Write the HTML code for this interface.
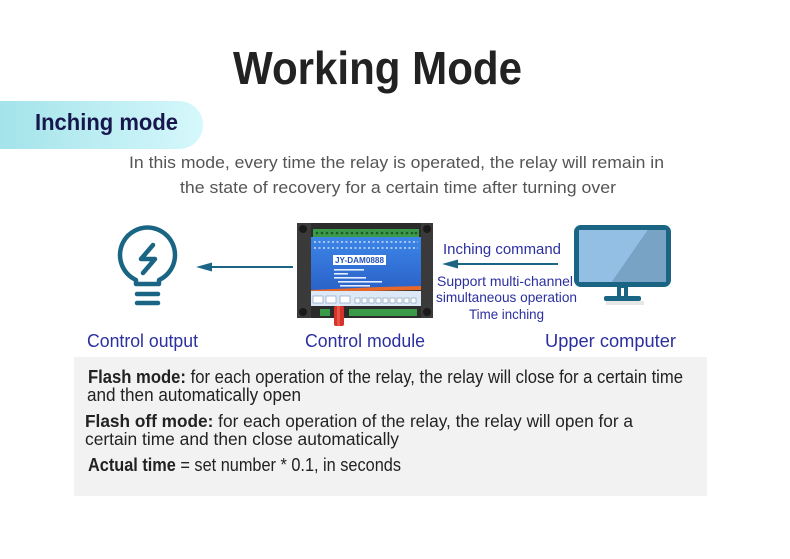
<!DOCTYPE html>
<html><head><meta charset="utf-8"><style>
html,body{margin:0;padding:0;background:#fff;}
svg{display:block;}
text{font-family:"Liberation Sans",sans-serif;}
</style></head><body>
<svg width="790" height="559" viewBox="0 0 790 559" xmlns="http://www.w3.org/2000/svg">
<defs>
<linearGradient id="pill" x1="0" x2="1" y1="0" y2="0">
<stop offset="0" stop-color="#a3e3ea"/><stop offset="1" stop-color="#d6f8fc"/>
</linearGradient>
<linearGradient id="blue" x1="0" x2="0" y1="0" y2="1">
<stop offset="0" stop-color="#3d86e8"/><stop offset="1" stop-color="#2a62c8"/>
</linearGradient>
</defs>
<rect width="790" height="559" fill="#fff"/>

<!-- Title -->
<text x="233" y="84" font-size="46" font-weight="bold" fill="#222" textLength="289" lengthAdjust="spacingAndGlyphs">Working Mode</text>

<!-- Pill -->
<path d="M0,101 H179 A24,24 0 0 1 179,149 H0 Z" fill="url(#pill)"/>
<text x="35" y="130" font-size="23" font-weight="bold" fill="#17164d" textLength="143" lengthAdjust="spacingAndGlyphs">Inching mode</text>

<!-- Description -->
<text x="129" y="168" font-size="17" fill="#555" textLength="535" lengthAdjust="spacingAndGlyphs">In this mode, every time the relay is operated, the relay will remain in</text>
<text x="180" y="193" font-size="17" fill="#555" textLength="436" lengthAdjust="spacingAndGlyphs">the state of recovery for a certain time after turning over</text>

<!-- Bulb -->
<g fill="none" stroke="#1b6584" stroke-width="4.5" stroke-linecap="round" stroke-linejoin="round">
<path d="M136,284 L136,280 A27.5,27.5 0 1 1 159,280 L159,284 Z"/>
<path d="M153,245 L141,259 L155,259 L143,273"/>
<line x1="137" y1="294" x2="158" y2="294"/>
<line x1="137" y1="303" x2="158" y2="303"/>
</g>

<!-- Arrow 1 -->
<line x1="210" y1="267" x2="293" y2="267" stroke="#1b6584" stroke-width="2"/>
<polygon points="196,267 212,262.5 212,271.5" fill="#1b6584"/>

<!-- Arrow 2 -->
<line x1="455" y1="264" x2="558" y2="264" stroke="#1b6584" stroke-width="2"/>
<polygon points="442,264 458,259.5 458,268.5" fill="#1b6584"/>

<!-- Module -->
<g>
<rect x="297" y="223" width="136" height="95" rx="3" fill="#2b2b2b"/>
<rect x="297" y="223" width="14" height="95" fill="#3a3a3a"/>
<rect x="421" y="223" width="12" height="95" fill="#3a3a3a"/>
<circle cx="303" cy="229" r="4" fill="#1a1a1a"/>
<circle cx="427" cy="229" r="4" fill="#1a1a1a"/>
<circle cx="303" cy="312" r="4" fill="#1a1a1a"/>
<circle cx="427" cy="312" r="4" fill="#1a1a1a"/>
<rect x="313" y="229" width="106" height="8" fill="#3a9a48"/>
<g fill="#1d5a28">
<circle cx="317" cy="233" r="1.3"/><circle cx="322" cy="233" r="1.3"/><circle cx="327" cy="233" r="1.3"/><circle cx="332" cy="233" r="1.3"/><circle cx="337" cy="233" r="1.3"/><circle cx="342" cy="233" r="1.3"/><circle cx="347" cy="233" r="1.3"/><circle cx="352" cy="233" r="1.3"/><circle cx="357" cy="233" r="1.3"/><circle cx="362" cy="233" r="1.3"/><circle cx="367" cy="233" r="1.3"/><circle cx="372" cy="233" r="1.3"/><circle cx="377" cy="233" r="1.3"/><circle cx="382" cy="233" r="1.3"/><circle cx="387" cy="233" r="1.3"/><circle cx="392" cy="233" r="1.3"/><circle cx="397" cy="233" r="1.3"/><circle cx="402" cy="233" r="1.3"/><circle cx="407" cy="233" r="1.3"/><circle cx="412" cy="233" r="1.3"/><circle cx="416" cy="233" r="1.3"/>
</g>
<rect x="311" y="237" width="110" height="53" fill="url(#blue)"/>
<g stroke="#e8f0ff" stroke-width="1.2" stroke-dasharray="2 2.5">
<line x1="314" y1="242" x2="418" y2="242"/>
<line x1="314" y1="248" x2="418" y2="248"/>
</g>
<rect x="333" y="255" width="53" height="10" fill="#fff"/>
<text x="335" y="263" font-size="8.5" font-weight="bold" fill="#2050b8" textLength="49" lengthAdjust="spacingAndGlyphs">JY-DAM0888</text>
<g fill="#e6eeff">
<rect x="334" y="269" width="30" height="1.6"/>
<rect x="334" y="273" width="14" height="1.6"/>
<rect x="334" y="277" width="32" height="1.6"/>
<rect x="338" y="281" width="44" height="1.6"/>
<rect x="340" y="285" width="30" height="1.6"/>
</g>
<polygon points="311,290 380,287 421,286 421,290 311,292" fill="#e8682a"/>
<rect x="311" y="291" width="110" height="15" fill="#dce8f5"/>
<g fill="#fff" stroke="#7b97b8" stroke-width="0.6">
<rect x="313" y="296" width="10" height="7"/><rect x="326" y="296" width="10" height="7"/>
<rect x="340" y="296" width="10" height="7"/>
<rect x="355" y="298" width="5" height="5"/><rect x="362" y="298" width="5" height="5"/><rect x="369" y="298" width="5" height="5"/><rect x="376" y="298" width="5" height="5"/><rect x="383" y="298" width="5" height="5"/><rect x="390" y="298" width="5" height="5"/><rect x="397" y="298" width="5" height="5"/><rect x="404" y="298" width="5" height="5"/><rect x="411" y="298" width="5" height="5"/>
</g>
<rect x="349" y="309" width="68" height="7" fill="#3a9a48"/>
<rect x="320" y="309" width="10" height="7" fill="#3a9a48"/>
<rect x="334" y="306" width="10" height="20" rx="2" fill="#d7322a"/>
<rect x="337" y="306" width="3" height="20" fill="#f06a5c" opacity="0.6"/>
</g>

<!-- Monitor -->
<rect x="606" y="301" width="38" height="4" fill="#ddd" opacity="0.7"/>
<rect x="574" y="225" width="97" height="62" rx="7" fill="#1b6584"/>
<polygon points="579,230 648,230 612,282 579,282" fill="#92bfe3"/>
<polygon points="648,230 666,230 666,282 612,282" fill="#79a3c5"/>
<rect x="617" y="286" width="11" height="12" fill="#1b6584"/>
<rect x="621" y="288" width="3" height="9" fill="#fff"/>
<rect x="604" y="296" width="37" height="5" rx="2" fill="#1b6584"/>

<!-- Right labels -->
<g fill="#2b2fa0">
<text x="443" y="254" font-size="15" textLength="118" lengthAdjust="spacingAndGlyphs">Inching command</text>
<text x="437" y="286" font-size="14" textLength="136" lengthAdjust="spacingAndGlyphs">Support multi-channel</text>
<text x="436" y="302" font-size="14" textLength="141" lengthAdjust="spacingAndGlyphs">simultaneous operation</text>
<text x="469" y="319" font-size="14" textLength="75" lengthAdjust="spacingAndGlyphs">Time inching</text>
<text x="87" y="347" font-size="18" textLength="111" lengthAdjust="spacingAndGlyphs">Control output</text>
<text x="305" y="347" font-size="18" textLength="120" lengthAdjust="spacingAndGlyphs">Control module</text>
<text x="545" y="347" font-size="18" textLength="131" lengthAdjust="spacingAndGlyphs">Upper computer</text>
</g>

<!-- Gray box -->
<rect x="74" y="357" width="633" height="139" fill="#f2f2f2"/>
<g fill="#222">
<text x="88" y="383" font-size="18" textLength="595" lengthAdjust="spacingAndGlyphs"><tspan font-weight="bold">Flash mode:</tspan> for each operation of the relay, the relay will close for a certain time</text>
<text x="87" y="401" font-size="18" textLength="214" lengthAdjust="spacingAndGlyphs">and then automatically open</text>
<text x="85" y="427" font-size="17.5" textLength="548" lengthAdjust="spacingAndGlyphs"><tspan font-weight="bold">Flash off mode:</tspan> for each operation of the relay, the relay will open for a</text>
<text x="85" y="445" font-size="17.5" textLength="314" lengthAdjust="spacingAndGlyphs">certain time and then close automatically</text>
<text x="88" y="471" font-size="18" textLength="313" lengthAdjust="spacingAndGlyphs"><tspan font-weight="bold">Actual time</tspan> = set number * 0.1, in seconds</text>
</g>
</svg>
</body></html>
